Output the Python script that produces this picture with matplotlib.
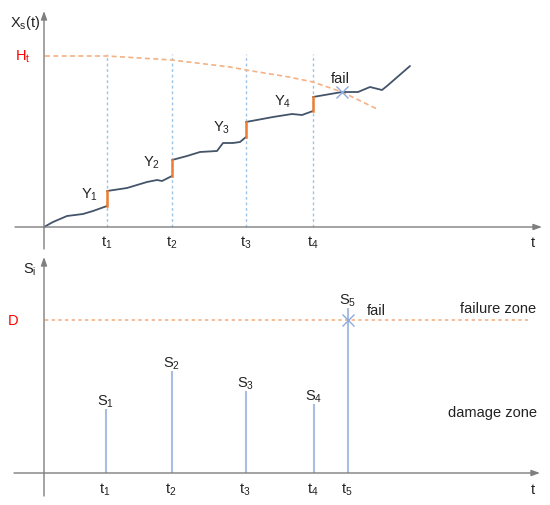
import matplotlib
matplotlib.use("Agg")
import matplotlib.pyplot as plt

plt.rcParams['font.family'] = ['Liberation Sans', 'DejaVu Sans']
plt.rcParams['mathtext.fontset'] = 'custom'
plt.rcParams['mathtext.rm'] = 'Liberation Sans'

# ---------------- data (top panel) ----------------
t_events = [63, 128, 202, 269]                 # t1..t4
t_labels = ['t_1', 't_2', 't_3', 't_4']
Y_labels = ['Y_1', 'Y_2', 'Y_3', 'Y_4']
# degradation path segments between shocks
seg_x = [
    [0, 9, 23, 39, 49, 63],
    [63, 83, 103, 113, 118, 128],
    [128, 143, 156, 173, 179, 189, 196, 202],
    [202, 229, 248, 258, 269],
    [269, 298, 314, 326, 338, 343, 366],
]
seg_y = [
    [0, 5, 11, 13, 16, 21],
    [36, 39, 45, 47, 46, 51],
    [67, 71, 75, 76, 84, 84, 85, 90],
    [105, 110, 113, 112, 116],
    [130, 135, 135, 140, 137, 141, 161],
]
# threshold curve H_t
H_x = [1, 63, 128, 186, 202, 245, 269, 298, 333]
H_y = [171, 171, 167, 160, 157, 150, 145, 135, 118]
fail_top = (298, 135)
Y_label_pos_x = [46, 108, 178, 239]
Y_label_pos_y = [33, 65, 100, 126]

# ---------------- data (bottom panel) ----------------
s_times = [62, 128, 202, 270, 304]
s_values = [64, 102, 82, 69, 165]
s_labels = ['S_1', 'S_2', 'S_3', 'S_4', 'S_5']
s_tick_labels = ['t_1', 't_2', 't_3', 't_4', 't_5']
D_level = 153

# ---------------- style ----------------
curve_c = '#44546A'
jump_c = '#ED7D31'
thr_c = '#F4B183'
vline_c = '#9DC3E6'
stem_c = '#A9BCE2'
axis_c = '#7F7F7F'
text_c = '#222222'
red_c = '#FF0000'
fs = 10.5

fig = plt.figure(figsize=(5.5, 5.06), dpi=100)
W, H = 550, 506
ax1 = fig.add_axes([0, 256 / H, 1, 250 / H])
ax2 = fig.add_axes([0, 0, 1, 256 / H])
for ax in (ax1, ax2):
    ax.set_xlim(-44, 506)
    ax.axis('off')
ax1.set_ylim(-22, 228)
ax2.set_ylim(-32, 224)

def m(s):
    return r'$\mathregular{' + s + '}$'

arrow = dict(arrowstyle='-|>,head_length=0.5,head_width=0.18', color=axis_c, lw=1,
             shrinkA=0, shrinkB=0)

# ---- top panel ----
ax1.annotate('', xy=(498, 0), xytext=(-29, 0), arrowprops=arrow, annotation_clip=False)
ax1.annotate('', xy=(0, 216), xytext=(0, -22), arrowprops=arrow, annotation_clip=False)

for tx in t_events:
    ax1.plot([tx, tx], [0, 173], color=vline_c, lw=1, ls=(0, (2, 2)))
ax1.plot(H_x, H_y, color=thr_c, lw=1.2, ls=(0, (3, 2)))

for xs, ys in zip(seg_x, seg_y):
    ax1.plot(xs, ys, color=curve_c, lw=1.3, solid_capstyle='round')
for i, tx in enumerate(t_events):
    ax1.plot([tx, tx], [seg_y[i][-1], seg_y[i + 1][0]], color=jump_c, lw=1.8)

ax1.plot([fail_top[0]], [fail_top[1]], marker='x', ms=9, mew=1, color='#8FAADC')
ax1.text(fail_top[0] - 2, fail_top[1] + 14, 'fail', fontsize=fs, color=text_c,
         ha='center', va='center')

for lx, ly, lab in zip(Y_label_pos_x, Y_label_pos_y, Y_labels):
    ax1.text(lx, ly, m(lab), fontsize=fs, color=text_c, ha='center', va='center')
for tx, lab in zip(t_events, t_labels):
    ax1.text(tx, -15, m(lab), fontsize=fs, color=text_c, ha='center', va='center')
ax1.text(489, -15, 't', fontsize=fs, color=text_c, ha='center', va='center')
ax1.text(-21, 171, m('H_t'), fontsize=fs, color=red_c, ha='center', va='center')
ax1.text(-19, 205, m('X_s(t)'), fontsize=fs, color=text_c, ha='center', va='center')

# ---- bottom panel ----
ax2.annotate('', xy=(496, 0), xytext=(-30, 0), arrowprops=arrow, annotation_clip=False)
ax2.annotate('', xy=(0, 216), xytext=(0, -23), arrowprops=arrow, annotation_clip=False)

ax2.plot([1, 484], [D_level, D_level], color=thr_c, lw=1.2, ls=(0, (2, 2)))
ax2.vlines(s_times, 0, s_values, color=stem_c, lw=1.5)
for sx, sv, lab in zip(s_times, s_values, s_labels):
    ax2.text(sx, sv + 8, m(lab), fontsize=fs, color=text_c, ha='center', va='center')
for sx, lab in zip(s_times, s_tick_labels):
    ax2.text(sx - 1, -16, m(lab), fontsize=fs, color=text_c, ha='center', va='center')
ax2.text(489, -16, 't', fontsize=fs, color=text_c, ha='center', va='center')
ax2.plot([s_times[-1]], [D_level], marker='x', ms=9, mew=1, color='#8FAADC')
ax2.text(332, 163, 'fail', fontsize=fs, color=text_c, ha='center', va='center')
ax2.text(454, 165, 'failure zone', fontsize=fs, color=text_c, ha='center', va='center')
ax2.text(449, 61, 'damage zone', fontsize=fs, color=text_c, ha='center', va='center')
ax2.text(-31, D_level, 'D', fontsize=fs, color=red_c, ha='center', va='center')
ax2.text(-14, 204, m('S_i'), fontsize=fs, color=text_c, ha='center', va='center')

fig.savefig('out.png', dpi=100, facecolor='white')
